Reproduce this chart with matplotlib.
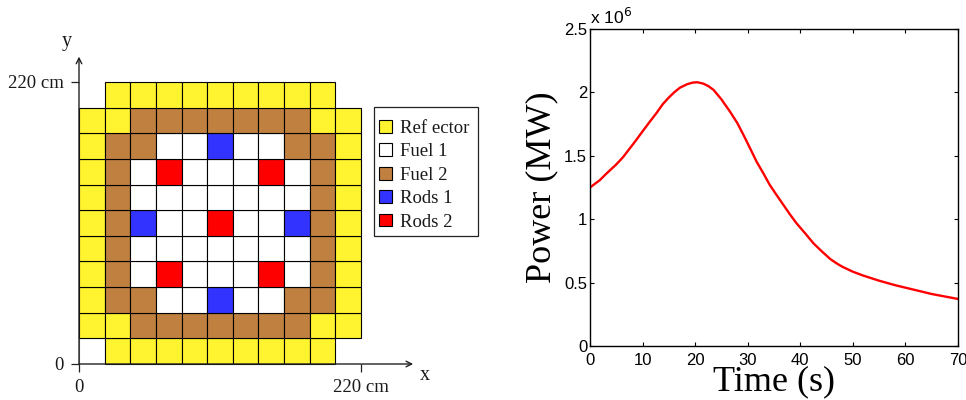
import matplotlib
matplotlib.use('Agg')
import matplotlib.pyplot as plt
from matplotlib.patches import Patch, Rectangle

# core layout, top row first: . empty, Y reflector, W fuel 1, B fuel 2, R rods 1, D rods 2
core_rows = [
    ".YYYYYYYYY.",
    "YYBBBBBBBYY",
    "YBBWWRWWBBY",
    "YBWDWWWDWBY",
    "YBWWWWWWWBY",
    "YBRWWDWWRBY",
    "YBWWWWWWWBY",
    "YBWDWWWDWBY",
    "YBBWWRWWBBY",
    "YYBBBBBBBYY",
    ".YYYYYYYYY.",
]
material_codes = "YWBRD"
material_names = ["Ref ector", "Fuel 1", "Fuel 2", "Rods 1", "Rods 2"]
material_colors = ["#FFF42F", "#FFFFFF", "#BF8040", "#3333FF", "#FF0000"]
CELL = 20

time_s = [0, 1.9, 3, 4.95, 6.3, 7.6, 8.8, 9.95, 11.3, 12.7, 13.8, 15, 16, 17.1, 18.5, 19.5, 20.4,
          21.5, 22.5, 23.5, 25, 26.6, 28, 29.2, 30.5, 31.7, 33, 34.2, 35.5, 36.8, 38, 39.3,
          41, 42.5, 44, 45.7, 46.9, 48, 50, 52, 55, 58, 60, 65, 70]
power_1e6 = [1.25, 1.309, 1.355, 1.43, 1.49, 1.56, 1.625, 1.69, 1.765, 1.84, 1.905, 1.96, 2.0, 2.037, 2.065, 2.077, 2.08,
             2.07, 2.05, 2.02, 1.945, 1.85, 1.76, 1.664, 1.555, 1.453, 1.36, 1.27, 1.19, 1.112, 1.04, 0.967,
             0.885, 0.81, 0.75, 0.686, 0.652, 0.625, 0.586, 0.555, 0.515, 0.48, 0.46, 0.41, 0.371]
x_ticks = [0, 10, 20, 30, 40, 50, 60, 70]
y_ticks = [0, 0.5, 1, 1.5, 2, 2.5]
y_labels = ['0', '0.5', '1', '1.5', '2', '2.5']

W, H = 966.0, 400.0
SERIF = 'Liberation Serif'
SANS = 'Liberation Sans'
INK = '#1a1a1a'

fig = plt.figure(figsize=(W / 100, H / 100), dpi=100)


def px_axes(left, top, right, bottom):
    return fig.add_axes([left / W, 1 - bottom / H, (right - left) / W, (bottom - top) / H])


# left panel
ax = px_axes(79, 82, 361, 364)
for r, row in enumerate(core_rows[::-1]):
    for c, code in enumerate(row):
        if code == '.':
            continue
        color = material_colors[material_codes.index(code)]
        ax.add_patch(Rectangle((c * CELL, r * CELL), CELL, CELL, facecolor=color, edgecolor='black',
                               linewidth=0.8, clip_on=False))
ax.add_patch(Rectangle((0, 0), CELL, CELL, facecolor='white', edgecolor='#808080', linewidth=0.8, zorder=0.5))
ax.set_xlim(0, 220)
ax.set_ylim(0, 220)
for side in ['top', 'right', 'left', 'bottom']:
    ax.spines[side].set_visible(False)
ax.set_xticks([0, 220])
ax.set_xticklabels(['0', '220 cm'], family=SERIF, fontsize=13.5, color=INK)
ax.set_yticks([0, 220])
ax.set_yticklabels(['0', '220 cm'], family=SERIF, fontsize=13.5, color=INK)
ax.tick_params(length=6, width=0.9, pad=5, color='#222222')
arrow = dict(arrowstyle='->', lw=1.0, color='#222222', shrinkA=0, shrinkB=0, mutation_scale=10)
ax.annotate('', xy=(1.185, 0), xytext=(0, 0), xycoords='axes fraction', arrowprops=arrow, annotation_clip=False)
ax.annotate('', xy=(0, 1.09), xytext=(0, 0), xycoords='axes fraction', arrowprops=arrow, annotation_clip=False)
ax.text(1.225, -0.04, 'x', transform=ax.transAxes, family=SERIF, fontsize=14.5, ha='center', va='center', color=INK)
ax.text(-0.043, 1.145, 'y', transform=ax.transAxes, family=SERIF, fontsize=14.5, ha='center', va='center', color=INK)

# legend frame is wider padded in y than in x, so it is drawn apart from the entries
fig.add_artist(Rectangle((374 / W, 1 - 236 / H), 104 / W, 129 / H, transform=fig.transFigure,
                         facecolor='white', edgecolor='#222222', linewidth=0.9))
handles = [Patch(facecolor=c, edgecolor='black', linewidth=0.8) for c in material_colors]
leg = fig.legend(handles, material_names, loc='upper left', bbox_to_anchor=(379 / W, 1 - 120 / H),
                 bbox_transform=fig.transFigure, frameon=False,
                 prop={'family': SERIF, 'size': 13.5}, handlelength=0.68, handleheight=0.68,
                 labelspacing=0.34, handletextpad=0.42, borderpad=0, borderaxespad=0)
for text in leg.get_texts():
    text.set_color(INK)

# right panel
ax2 = px_axes(590, 29, 958, 346)
ax2.plot(time_s, power_1e6, color='red', linewidth=1.7)
ax2.set_xlim(0, 70)
ax2.set_ylim(0, 2.5)
ax2.set_xticks(x_ticks)
ax2.set_yticks(y_ticks)
ax2.set_yticklabels(y_labels)
ax2.tick_params(direction='in', top=True, right=True, length=3, width=0.8, labelsize=12)
ax2.tick_params(axis='x', pad=5)
ax2.tick_params(axis='y', pad=2)
for label in ax2.get_xticklabels() + ax2.get_yticklabels():
    label.set_family(SANS)
for spine in ax2.spines.values():
    spine.set_linewidth(1.0)
ax2.text(0, 1.007, 'x 10$^{6}$', transform=ax2.transAxes, family=SANS, fontsize=12.5, ha='left', va='bottom')
ax2.set_xlabel('Time (s)', family=SERIF, fontsize=26, labelpad=-2)
ax2.set_ylabel('Power (MW)', family=SERIF, fontsize=26, labelpad=4)

fig.savefig('out.png', dpi=100)
